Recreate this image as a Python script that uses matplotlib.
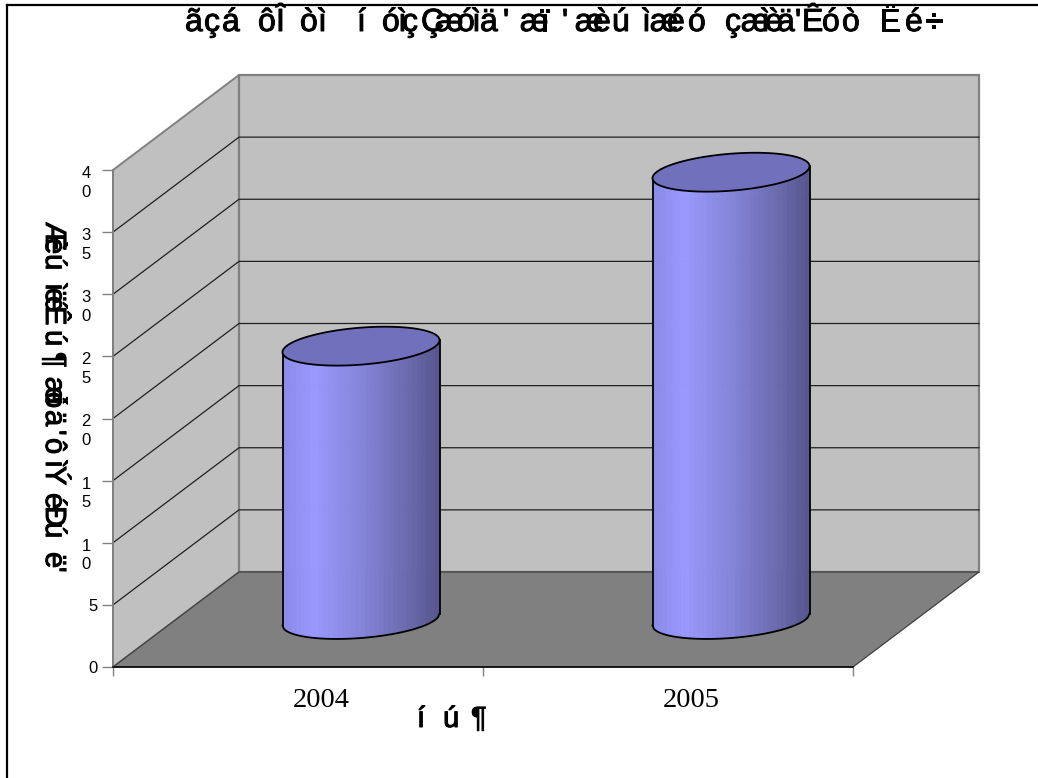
import numpy as np
import matplotlib
matplotlib.use("Agg")
import matplotlib.pyplot as plt
import matplotlib.patheffects as pe
from matplotlib.collections import PolyCollection
from matplotlib.colors import LinearSegmentedColormap
from matplotlib.lines import Line2D
from matplotlib.transforms import ScaledTranslation

# ---- data ----
categories = ["2004", "2005"]
values = [22, 36]
y_ticks = [0, 5, 10, 15, 20, 25, 30, 35, 40]
y_tick_labels = ["0", "5", "1\n0", "1\n5", "2\n0", "2\n5", "3\n0", "3\n5", "4\n0"]
title_glyphs = list("ãçáôÎòìíóìçÇæóìä'æï'æèúìæéóçæìèä'ÊóòËé÷")
ylabel_glyphs = list("ÆèúìëéÊú¶æóìä'ôìÝéÐúë'")
xlabel_glyphs = list("íú¶")

# ---- layout (pixels) ----
W, H = 1038, 778
title_x = [185, 204, 222, 258, 276, 300, 318, 357, 382, 398, 402, 421, 435, 457, 472, 480, 503,
           520, 540, 562, 575, 593, 612, 642, 650, 667, 688, 725, 741, 761, 765, 777, 795,
           802, 822, 842, 879, 905, 925]
ylabel_y = [222, 238, 254, 283, 288, 296, 306, 330, 352, 377, 392, 397, 410, 430, 438, 460, 466,
            493, 506, 522, 552, 567]
xlabel_x = [417, 443, 471]
PLANE_L, PLANE_R, PLANE_B, PLANE_T = 113, 853, 667, 170
PX_X = 2 / (PLANE_R - PLANE_L)
PX_Y = 40 / (PLANE_B - PLANE_T)
DX = 126 * PX_X
DY = 95 * PX_Y

plt.rcParams["font.family"] = ["Liberation Sans", "DejaVu Sans"]
fig = plt.figure(figsize=(W / 100, H / 100), dpi=100, facecolor="white")
ax = fig.add_axes([PLANE_L / W, 1 - PLANE_B / H, (PLANE_R - PLANE_L) / W, (PLANE_B - PLANE_T) / H])
ax.patch.set_visible(False)
ax.set_xlim(0, 2)
ax.set_ylim(0, 40)

GREY = "#808080"
WALL = "#C0C0C0"
FLOOR = "#808080"

# walls and floor
ax.fill([0, DX, DX, 0], [0, DY, 40 + DY, 40], fc=WALL, ec=GREY, lw=1.4, clip_on=False, zorder=1)
ax.fill([DX, 2 + DX, 2 + DX, DX], [DY, DY, 40 + DY, 40 + DY], fc=WALL, ec=GREY, lw=1.6, clip_on=False, zorder=1)
ax.fill([0, DX, 2 + DX, 2], [0, DY, DY, 0], fc=FLOOR, ec="#404040", lw=0.9, clip_on=False, zorder=2)

# gridlines
for v in y_ticks[1:-1]:
    ax.plot([0, DX, 2 + DX], [v, v + DY, v + DY], color="#202020", lw=0.9, clip_on=False, zorder=3)

# cylinders
cmap = LinearSegmentedColormap.from_list(
    "cyl", [(0, "#8A8AE8"), (0.2, "#9999FF"), (0.5, "#8585DA"), (0.8, "#6A6AAE"), (1, "#55558E")])
A, B, K = 78.5, 18.5, 6.0   # ellipse half-width, half-height and shear, in pixels


def lower_edge(u):
    return -B * np.sqrt(1 - u ** 2) + K * u


n_strips = 34
for i, v in enumerate(values):
    cx = i + 0.5 + DX / 2
    y0 = DY / 2
    edges = np.linspace(-1, 1, n_strips + 1)
    polys, cols = [], []
    for j in range(n_strips):
        us = np.linspace(edges[j], edges[j + 1], 6)
        xs = cx + A * us * PX_X
        low = y0 + lower_edge(us) * PX_Y
        top = y0 + v + lower_edge(us) * PX_Y
        polys.append(np.r_[np.c_[xs, low], np.c_[xs[::-1], top[::-1]]])
        cols.append(cmap((j + 0.5) / n_strips))
    body = PolyCollection(polys, facecolors=cols, edgecolors=cols, linewidths=0.4, clip_on=False, zorder=4)
    ax.add_collection(body)

    # outline of the body: sides and lower rim
    us = np.linspace(-1, 1, 120)
    ax.plot(cx + A * us * PX_X, y0 + lower_edge(us) * PX_Y, color="black", lw=1.3, clip_on=False, zorder=5)
    ax.plot([cx - A * PX_X] * 2, [y0 - K * PX_Y, y0 + v - K * PX_Y], color="black", lw=1.3, clip_on=False, zorder=5)
    ax.plot([cx + A * PX_X] * 2, [y0 + K * PX_Y, y0 + v + K * PX_Y], color="black", lw=1.3, clip_on=False, zorder=5)

    # top cap
    t = np.linspace(0, 2 * np.pi, 200)
    ax.fill(cx + A * np.cos(t) * PX_X, y0 + v + (B * np.sin(t) + K * np.cos(t)) * PX_Y,
            fc="#7070BC", ec="black", lw=1.3, clip_on=False, zorder=6)

# axes furniture
for s in ("top", "right"):
    ax.spines[s].set_visible(False)
ax.spines["left"].set_color(GREY)
ax.spines["left"].set_linewidth(1.4)
ax.spines["bottom"].set_color("black")
ax.spines["bottom"].set_linewidth(1.1)
for s in ax.spines.values():
    s.set_zorder(7)

ax.set_yticks(y_ticks)
ax.set_yticklabels(y_tick_labels, fontsize=12, color="black", linespacing=1.3)
ax.tick_params(axis="y", length=8, width=1, color=GREY, pad=3)
for lab, txt in zip(ax.get_yticklabels(), y_tick_labels):
    if "\n" in txt:
        lab.set_transform(lab.get_transform() + ScaledTranslation(-7 / 100, -9.5 / 100, fig.dpi_scale_trans))

ax.set_xticks([0, 1, 2])
ax.set_xticklabels(["", "", ""])
ax.tick_params(axis="x", which="major", length=6.5, width=1, color=GREY)
ax.set_xticks([0.5, 1.5], minor=True)
ax.set_xticklabels(categories, minor=True, fontsize=20.5, family="Liberation Serif")
ax.tick_params(axis="x", which="minor", length=0, pad=15)
for lab in ax.get_xticklabels(minor=True):
    lab.set_transform(lab.get_transform() + ScaledTranslation(23 / 100, 0, fig.dpi_scale_trans))

# overstruck text, placed glyph by glyph
heavy = [pe.withStroke(linewidth=0.7, foreground="black")]
for ch, x in zip(title_glyphs, title_x):
    fig.text(x / W, 1 - 31 / H, ch, fontsize=23, ha="left", va="baseline", path_effects=heavy)
for ch, y in zip(ylabel_glyphs, ylabel_y):
    fig.text(46 / W, 1 - y / H, ch, fontsize=21, rotation=-90, rotation_mode="anchor",
             ha="left", va="baseline", path_effects=heavy)
for ch, x in zip(xlabel_glyphs, xlabel_x):
    fig.text(x / W, 1 - 727 / H, ch, fontsize=21, ha="left", va="baseline", path_effects=heavy)

# chart frame (only top and left edges fall inside the picture)
fig.add_artist(Line2D([6.5 / W, 6.5 / W], [0, 1 - 5 / H], color="black", lw=1.6, transform=fig.transFigure))
fig.add_artist(Line2D([6.5 / W, 1], [1 - 5 / H, 1 - 5 / H], color="black", lw=1.6, transform=fig.transFigure))

fig.savefig("out.png", dpi=100)
